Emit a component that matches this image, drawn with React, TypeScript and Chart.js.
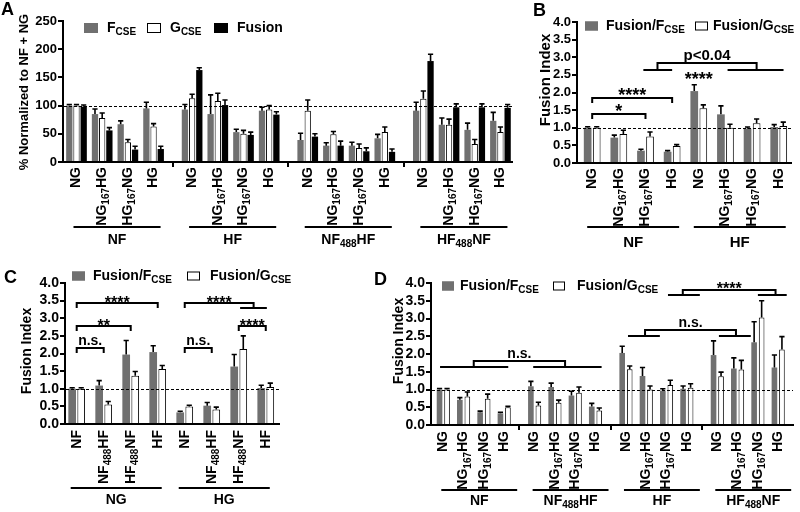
import React, { useEffect, useRef } from 'react';
import { Chart, registerables } from 'chart.js';
Chart.register(...registerables);

const FONT = "'Liberation Sans', Arial, Helvetica, sans-serif";
const GREY = '#707070';

// ---------- Panel A ----------
const A_LABELS = ['NG', 'NG~167~HG', 'HG~167~NG', 'HG', 'NG', 'NG~167~HG', 'HG~167~NG', 'HG', 'NG', 'NG~167~HG', 'HG~167~NG', 'HG', 'NG', 'NG~167~HG', 'HG~167~NG', 'HG'];
const A_POS = [0, 1, 2, 3, 4.5, 5.5, 6.5, 7.5, 9, 10, 11, 12, 13.5, 14.5, 15.5, 16.5];
const A_GROUPS = ['NF', 'HF', 'NF~488~HF', 'HF~488~NF'];
const A_F = [100, 85, 67, 95, 93, 85, 53, 91, 39, 29, 29, 42, 91, 66, 57, 73];
const A_F_ERR = [2, 9, 6, 11, 9, 34, 5, 6, 12, 5, 6, 7, 15, 12, 12, 15];
const A_G = [100, 78, 35, 63, 113, 108, 50, 93, 91, 49, 25, 53, 112, 66, 32, 53];
const A_G_ERR = [2, 9, 5, 5, 7, 14, 6, 7, 19, 5, 7, 9, 14, 10, 8, 9];
const A_FUS = [98, 56, 22, 23, 163, 101, 48, 84, 45, 29, 19, 18, 179, 97, 97, 96];
const A_FUS_ERR = [3, 5, 6, 5, 4, 9, 5, 5, 5, 8, 6, 5, 12, 6, 6, 6];
const A_LEGEND = ['F~CSE', 'G~CSE', 'Fusion'];
const A_YTICKS = [0, 50, 100, 150, 200, 250];

// ---------- Panel B ----------
const B_LABELS = ['NG', 'NG~167~HG', 'HG~167~NG', 'HG', 'NG', 'NG~167~HG', 'HG~167~NG', 'HG'];
const B_POS = [0, 1, 2, 3, 4, 5, 6, 7];
const B_GROUPS = ['NF', 'HF'];
const B_FF = [1.0, 0.72, 0.35, 0.32, 2.04, 1.38, 0.97, 1.02];
const B_FF_ERR = [0.03, 0.07, 0.04, 0.03, 0.18, 0.24, 0.05, 0.07];
const B_FG = [1.0, 0.82, 0.75, 0.48, 1.55, 1.0, 1.13, 1.05];
const B_FG_ERR = [0.03, 0.11, 0.13, 0.04, 0.1, 0.1, 0.12, 0.11];
const FI_LEGEND = ['Fusion/F~CSE', 'Fusion/G~CSE'];
const FI_YTICKS = [0, 0.5, 1, 1.5, 2, 2.5, 3, 3.5, 4];

// ---------- Panel C ----------
const C_LABELS = ['NF', 'NF~488~HF', 'HF~488~NF', 'HF', 'NF', 'NF~488~HF', 'HF~488~NF', 'HF'];
const C_POS = [0, 1, 2, 3, 4, 5, 6, 7];
const C_GROUPS = ['NG', 'HG'];
const C_FF = [1.0, 1.09, 1.97, 2.04, 0.33, 0.52, 1.63, 1.02];
const C_FF_ERR = [0.03, 0.14, 0.4, 0.18, 0.03, 0.09, 0.34, 0.08];
const C_FG = [1.0, 0.55, 1.37, 1.56, 0.5, 0.41, 2.13, 1.05];
const C_FG_ERR = [0.03, 0.09, 0.12, 0.1, 0.03, 0.07, 0.37, 0.11];

// ---------- Panel D ----------
const D_LABELS = A_LABELS;
const D_POS = [0, 1, 2, 3, 4.5, 5.5, 6.5, 7.5, 9, 10, 11, 12, 13.5, 14.5, 15.5, 16.5];
const D_GROUPS = ['NF', 'NF~488~HF', 'HF', 'HF~488~NF'];
const D_FF = [1.0, 0.71, 0.36, 0.33, 1.09, 1.07, 0.83, 0.52, 2.03, 1.38, 0.97, 1.02, 1.97, 1.59, 2.33, 1.62];
const D_FF_ERR = [0.03, 0.06, 0.03, 0.03, 0.14, 0.11, 0.12, 0.09, 0.19, 0.24, 0.05, 0.08, 0.4, 0.3, 0.58, 0.35];
const D_FG = [1.0, 0.8, 0.74, 0.5, 0.55, 0.63, 0.91, 0.41, 1.57, 1.0, 1.13, 1.05, 1.37, 1.56, 3.03, 2.13];
const D_FG_ERR = [0.03, 0.13, 0.13, 0.03, 0.09, 0.07, 0.16, 0.07, 0.09, 0.1, 0.13, 0.11, 0.12, 0.26, 0.47, 0.36];

// significance annotations (x in category units, y in axis units)
type Bracket = { x1: number; x2: number; y: number; down?: number; label: string; subs?: number[][] };
type Mark = { x: number; y: number; label: string };
const B_BRACKETS: Bracket[] = [
  { x1: 0, x2: 2, y: 1.38, label: '*' },
  { x1: 0, x2: 3, y: 1.85, label: '****' },
  { x1: 2.45, x2: 6.17, y: 2.83, down: 2.63, label: 'p<0.04', subs: [[1.92, 3.0], [5.08, 7.18]] },
];
const B_MARKS: Mark[] = [{ x: 4, y: 2.3, label: '****' }];
const C_BRACKETS: Bracket[] = [
  { x1: 0, x2: 3, y: 3.43, label: '****' },
  { x1: 0, x2: 2, y: 2.79, label: '**' },
  { x1: 0, x2: 1, y: 2.16, label: 'n.s.' },
  { x1: 4, x2: 6.55, y: 3.43, down: 3.29, label: '****', subs: [[6.05, 7.04]] },
  { x1: 6, x2: 7, y: 2.79, label: '****' },
  { x1: 4, x2: 5, y: 2.16, label: 'n.s.' },
];
const D_BRACKETS: Bracket[] = [
  { x1: 1.5, x2: 6.0, y: 1.8, down: 1.63, label: 'n.s.', subs: [[-0.16, 3.2], [4.43, 7.8]] },
  { x1: 9.94, x2: 14.42, y: 2.68, down: 2.51, label: 'n.s.', subs: [[9.1, 10.67], [13.58, 15.15]] },
  { x1: 11.8, x2: 16.37, y: 3.79, down: 3.67, label: '****', subs: [[11.07, 12.64], [15.5, 16.92]] },
];

interface Spec {
  letter: string; letterX: number; letterY: number;
  yTitle: string; yTitleX: number; yTitleY: number; yTitleSize: number;
  legend: string[]; legendFills: string[]; legendBoxX: number[]; legendTextX: number[]; legendY: number;
  legendBoxW: number; legendBoxH: number; legendSize: number;
  ref: number; errors: number[][];
  positions: number[]; labels: string[]; labelSize: number; labelGap: number;
  groups: string[]; groupLineY: number; groupTextY: number; groupPad: number[]; groupSize: number;
  separators: number[];
  brackets: Bracket[]; marks: Mark[]; textSize: number; starSize: number; starOffset: number;
}

function drawRich(ctx: CanvasRenderingContext2D, text: string, x: number, y: number, size: number, align: string) {
  const parts = text.split('~');
  const sub = Math.round(size * 0.72);
  const widths: number[] = [];
  let w = 0;
  parts.forEach((p, i) => {
    ctx.font = `bold ${i % 2 ? sub : size}px ${FONT}`;
    const m = ctx.measureText(p).width;
    widths.push(m);
    w += m;
  });
  let cx = align === 'right' ? x - w : align === 'center' ? x - w / 2 : x;
  parts.forEach((p, i) => {
    ctx.font = `bold ${i % 2 ? sub : size}px ${FONT}`;
    ctx.fillText(p, cx, y + (i % 2 ? size * 0.3 : 0));
    cx += widths[i];
  });
}

function makeOverlay(spec: Spec) {
  return {
    id: 'overlay' + spec.letter,
    afterDatasetsDraw(chart: any) {
      const ctx: CanvasRenderingContext2D = chart.ctx;
      const ys = chart.scales.y;
      ctx.save();
      ctx.strokeStyle = '#000';
      chart.data.datasets.forEach((ds: any, i: number) => {
        const meta = chart.getDatasetMeta(i);
        meta.data.forEach((el: any, j: number) => {
          const v = ds.data[j].y;
          const top = ys.getPixelForValue(v + spec.errors[i][j]);
          ctx.lineWidth = 1.6;
          ctx.beginPath();
          ctx.moveTo(el.x, el.y);
          ctx.lineTo(el.x, top);
          ctx.moveTo(el.x - 2.6, top);
          ctx.lineTo(el.x + 2.6, top);
          ctx.stroke();
        });
      });
      ctx.restore();
    },
    afterDraw(chart: any) {
      const ctx: CanvasRenderingContext2D = chart.ctx;
      const xs = chart.scales.x;
      const ys = chart.scales.y;
      const area = chart.chartArea;
      ctx.save();
      ctx.fillStyle = '#000';
      ctx.strokeStyle = '#000';
      // reference line
      const ry = Math.round(ys.getPixelForValue(spec.ref)) + 0.5;
      ctx.lineWidth = 1;
      ctx.setLineDash([3, 2]);
      ctx.beginPath();
      ctx.moveTo(area.left + 1, ry);
      ctx.lineTo(area.right, ry);
      ctx.stroke();
      ctx.setLineDash([]);
      // panel letter and y title
      ctx.font = `bold 18px ${FONT}`;
      ctx.textBaseline = 'top';
      ctx.textAlign = 'left';
      ctx.fillText(spec.letter, spec.letterX, spec.letterY);
      ctx.textBaseline = 'middle';
      ctx.save();
      ctx.translate(spec.yTitleX, spec.yTitleY);
      ctx.rotate(-Math.PI / 2);
      ctx.font = `bold ${spec.yTitleSize}px ${FONT}`;
      ctx.textAlign = 'center';
      ctx.fillText(spec.yTitle, 0, 0);
      ctx.restore();
      ctx.textAlign = 'left';
      // legend
      spec.legend.forEach((t, i) => {
        ctx.fillStyle = spec.legendFills[i];
        ctx.fillRect(spec.legendBoxX[i], spec.legendY - spec.legendBoxH / 2, spec.legendBoxW, spec.legendBoxH);
        ctx.lineWidth = 1;
        ctx.strokeStyle = spec.legendFills[i] === '#ffffff' ? '#000' : spec.legendFills[i];
        ctx.strokeRect(spec.legendBoxX[i] + 0.5, spec.legendY - spec.legendBoxH / 2 + 0.5, spec.legendBoxW - 1, spec.legendBoxH - 1);
        ctx.fillStyle = '#000';
        drawRich(ctx, t, spec.legendTextX[i], spec.legendY, spec.legendSize, 'left');
      });
      // category labels
      const top = area.bottom + spec.labelGap;
      spec.positions.forEach((p, i) => {
        const px = xs.getPixelForValue(p);
        ctx.save();
        ctx.translate(px, top);
        ctx.rotate(-Math.PI / 2);
        drawRich(ctx, spec.labels[i], 0, 0, spec.labelSize, 'right');
        ctx.restore();
      });
      // group lines
      ctx.strokeStyle = '#000';
      spec.groups.forEach((g, gi) => {
        const a = xs.getPixelForValue(spec.positions[gi * 4]) + spec.groupPad[0];
        const b = xs.getPixelForValue(spec.positions[gi * 4 + 3]) + spec.groupPad[1];
        ctx.lineWidth = 2;
        ctx.beginPath();
        ctx.moveTo(a, spec.groupLineY);
        ctx.lineTo(b, spec.groupLineY);
        ctx.stroke();
        drawRich(ctx, g, (a + b) / 2, spec.groupTextY, spec.groupSize, 'center');
      });
      // significance brackets
      ctx.lineWidth = 2;
      const label = (t: string, x: number, y: number) => {
        ctx.textAlign = 'center';
        ctx.textBaseline = 'alphabetic';
        if (t.startsWith('*')) {
          ctx.font = `bold ${spec.starSize}px ${FONT}`;
          ctx.fillText(t, x, y + spec.starOffset);
        } else {
          ctx.font = `bold ${spec.textSize}px ${FONT}`;
          ctx.fillText(t, x, y - 3);
        }
        ctx.textAlign = 'left';
        ctx.textBaseline = 'middle';
      };
      spec.brackets.forEach((br) => {
        const x1 = xs.getPixelForValue(br.x1);
        const x2 = xs.getPixelForValue(br.x2);
        const y = Math.round(ys.getPixelForValue(br.y));
        const yd = br.down !== undefined ? Math.round(ys.getPixelForValue(br.down)) : y + 5;
        ctx.beginPath();
        ctx.moveTo(x1, yd);
        ctx.lineTo(x1, y);
        ctx.lineTo(x2, y);
        ctx.lineTo(x2, yd);
        ctx.stroke();
        (br.subs || []).forEach((s) => {
          ctx.beginPath();
          ctx.moveTo(xs.getPixelForValue(s[0]), yd);
          ctx.lineTo(xs.getPixelForValue(s[1]), yd);
          ctx.stroke();
        });
        label(br.label, (x1 + x2) / 2, y);
      });
      spec.marks.forEach((m) => {
        label(m.label, xs.getPixelForValue(m.x), ys.getPixelForValue(m.y));
      });
      // axes, drawn last
      ctx.fillStyle = '#000000';
      const L = Math.round(area.left);
      const B = Math.round(area.bottom);
      const R = Math.round(area.right);
      const T = Math.round(area.top);
      ctx.fillRect(L - 1, T - 1, 2, B - T + 2);
      ctx.fillRect(L - 1, B - 1, R - L + 1, 2);
      ys.ticks.forEach((t: any) => {
        const py = Math.round(ys.getPixelForValue(t.value));
        ctx.fillRect(L - 5, py - 1, 5, 2);
      });
      spec.separators.forEach((s) => {
        const px = Math.round(xs.getPixelForValue(s));
        ctx.fillRect(px - 1, B, 2, 5);
      });
      ctx.restore();
    },
  };
}

type Area = { left: number; right: number; top: number; bottom: number };

function buildConfig(spec: Spec, datasets: any[], xmin: number, xmax: number, ymax: number, tickSize: number, dec: number, area: Area, cat: number, bar: number): any {
  const YW = 40;
  const XH = 2;
  const yticks = ymax > 10 ? A_YTICKS : FI_YTICKS;
  return {
    type: 'bar',
    data: {
      datasets: datasets.map((d) => ({
        ...d,
        categoryPercentage: cat,
        barPercentage: bar,
        borderSkipped: 'start',
      })),
    },
    plugins: [makeOverlay(spec)],
    options: {
      animation: false,
      responsive: false,
      devicePixelRatio: 1,
      layout: { padding: { left: area.left - YW, right: 800 - area.right, top: area.top, bottom: 512 - area.bottom - XH } },
      plugins: { legend: { display: false }, tooltip: { enabled: false } },
      scales: {
        x: {
          type: 'linear', min: xmin, max: xmax, offset: false,
          ticks: { display: false },
          grid: { display: false, offset: false },
          border: { display: true, color: '#000', width: 2 },
          afterBuildTicks: (s: any) => { s.ticks = [{ value: s.min }]; },
          afterFit: (s: any) => { s.height = XH; s.paddingLeft = 0; s.paddingRight = 0; s.paddingTop = 0; s.paddingBottom = 0; },
        },
        y: {
          type: 'linear', min: 0, max: ymax,
          afterBuildTicks: (s: any) => { s.ticks = yticks.map((v) => ({ value: v })); },
          ticks: {
            color: '#000',
            padding: 2,
            autoSkip: false,
            font: { family: FONT, size: tickSize, weight: 'bold' },
            callback: (v: any) => Number(v).toFixed(dec),
          },
          grid: { display: true, drawOnChartArea: false, drawTicks: true, tickLength: 4, tickWidth: 2, tickColor: '#000', color: '#000', lineWidth: 2 },
          border: { display: true, color: '#000', width: 2 },
          afterFit: (s: any) => { s.width = YW; s.paddingTop = 0; s.paddingBottom = 0; },
        },
      },
    },
  };
}

const pts = (pos: number[], vals: number[]) => pos.map((x, i) => ({ x, y: vals[i] }));
const greyDs = (d: any) => ({ data: d, backgroundColor: GREY, borderColor: GREY, borderWidth: 0 });
const whiteDs = (d: any) => ({ data: d, backgroundColor: '#ffffff', borderColor: '#000', borderWidth: 1 });
const blackDs = (d: any) => ({ data: d, backgroundColor: '#000', borderWidth: 0 });

function configA() {
  const spec: Spec = {
    letter: 'A', letterX: 1, letterY: 1,
    yTitle: '% Normalized to NF + NG', yTitleX: 24, yTitleY: 92, yTitleSize: 13,
    legend: A_LEGEND, legendFills: [GREY, '#ffffff', '#000'], legendBoxX: [84, 147, 214], legendTextX: [107, 170, 237], legendY: 28,
    legendBoxW: 14, legendBoxH: 10, legendSize: 14,
    ref: 100, errors: [A_F_ERR, A_G_ERR, A_FUS_ERR],
    positions: A_POS, labels: A_LABELS, labelSize: 14, labelGap: 5,
    groups: A_GROUPS, groupLineY: 227, groupTextY: 240, groupPad: [-3, 7], groupSize: 14,
    separators: [3.75, 8.25, 12.75],
    brackets: [], marks: [], textSize: 14, starSize: 16, starOffset: 4,
  };
  return buildConfig(spec, [greyDs(pts(A_POS, A_F)), whiteDs(pts(A_POS, A_G)), blackDs(pts(A_POS, A_FUS))],
    -0.525, 16.95, 250, 13, 0, { left: 63, right: 512, top: 21, bottom: 162 }, 0.84, 0.875);
}

function configB() {
  const spec: Spec = {
    letter: 'B', letterX: 533, letterY: 2,
    yTitle: 'Fusion Index', yTitleX: 546, yTitleY: 80, yTitleSize: 15,
    legend: FI_LEGEND, legendFills: [GREY, '#ffffff'], legendBoxX: [585, 695], legendTextX: [606, 713], legendY: 26,
    legendBoxW: 13, legendBoxH: 9, legendSize: 14,
    ref: 1, errors: [B_FF_ERR, B_FG_ERR],
    positions: B_POS, labels: B_LABELS, labelSize: 14, labelGap: 5,
    groups: B_GROUPS, groupLineY: 227, groupTextY: 243, groupPad: [-5, 7], groupSize: 15,
    separators: [],
    brackets: B_BRACKETS, marks: B_MARKS, textSize: 15, starSize: 18, starOffset: 3,
  };
  return buildConfig(spec, [greyDs(pts(B_POS, B_FF)), whiteDs(pts(B_POS, B_FG))],
    -0.57, 7.46, 4, 13, 1, { left: 577, right: 791, top: 22, bottom: 163 }, 0.68, 0.85);
}

function configC() {
  const spec: Spec = {
    letter: 'C', letterX: 4, letterY: 269,
    yTitle: 'Fusion Index', yTitleX: 27, yTitleY: 351, yTitleSize: 14,
    legend: FI_LEGEND, legendFills: [GREY, '#ffffff'], legendBoxX: [72, 187], legendTextX: [93, 210], legendY: 276,
    legendBoxW: 13, legendBoxH: 9, legendSize: 14,
    ref: 1, errors: [C_FF_ERR, C_FG_ERR],
    positions: C_POS, labels: C_LABELS, labelSize: 14, labelGap: 6,
    groups: C_GROUPS, groupLineY: 488, groupTextY: 500, groupPad: [-6, 4], groupSize: 14,
    separators: [],
    brackets: C_BRACKETS, marks: [], textSize: 14, starSize: 16, starOffset: 5,
  };
  return buildConfig(spec, [greyDs(pts(C_POS, C_FF)), whiteDs(pts(C_POS, C_FG))],
    -0.433, 7.49, 4, 14, 1, { left: 65, right: 279, top: 283, bottom: 424 }, 0.67, 0.85);
}

function configD() {
  const spec: Spec = {
    letter: 'D', letterX: 374, letterY: 271,
    yTitle: 'Fusion Index', yTitleX: 399, yTitleY: 341, yTitleSize: 14,
    legend: FI_LEGEND, legendFills: [GREY, '#ffffff'], legendBoxX: [442, 553], legendTextX: [460, 577], legendY: 286,
    legendBoxW: 12, legendBoxH: 9, legendSize: 14,
    ref: 1, errors: [D_FF_ERR, D_FG_ERR],
    positions: D_POS, labels: D_LABELS, labelSize: 14, labelGap: 6,
    groups: D_GROUPS, groupLineY: 490, groupTextY: 501, groupPad: [-2, 13], groupSize: 14,
    separators: [3.75, 8.25, 12.75],
    brackets: D_BRACKETS, marks: [], textSize: 14, starSize: 16, starOffset: 4,
  };
  return buildConfig(spec, [greyDs(pts(D_POS, D_FF)), whiteDs(pts(D_POS, D_FG))],
    -0.606, 17.23, 4, 14, 1, { left: 431, right: 793, top: 283, bottom: 425 }, 0.74, 0.75);
}

function Panel({ build }: { build: () => any }) {
  const ref = useRef<HTMLCanvasElement | null>(null);
  useEffect(() => {
    if (!ref.current) return;
    const chart = new Chart(ref.current, build());
    return () => chart.destroy();
  }, [build]);
  return <canvas ref={ref} width={800} height={512} style={{ position: 'absolute', left: 0, top: 0, width: 800, height: 512 }} />;
}

export default function App() {
  return (
    <div style={{ position: 'absolute', left: 0, top: 0, width: 800, height: 512, background: '#ffffff', overflow: 'hidden' }}>
      <Panel build={configA} />
      <Panel build={configB} />
      <Panel build={configC} />
      <Panel build={configD} />
    </div>
  );
}
